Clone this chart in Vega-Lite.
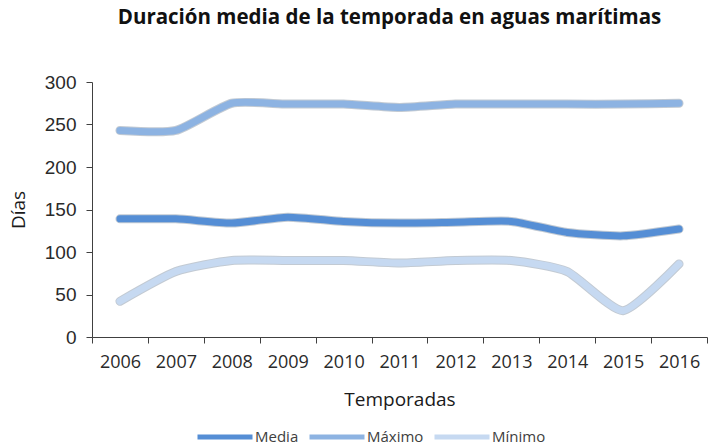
{
  "$schema": "https://vega.github.io/schema/vega-lite/v6.json",
  "autosize": "none",
  "width": 615,
  "height": 255,
  "padding": {"left": 92, "top": 82, "right": 10, "bottom": 111},
  "background": "white",
  "title": {
    "text": "Duración media de la temporada en aguas marítimas",
    "font": "Open Sans",
    "fontSize": 20.5,
    "fontWeight": "bold",
    "color": "#111111",
    "anchor": "middle",
    "frame": "group",
    "offset": 45,
    "dx": -10
  },
  "config": {"view": {"stroke": null}},
  "data": {
    "values": [
      {"year": 2006, "serie": "Media", "dias": 139},
      {"year": 2007, "serie": "Media", "dias": 139},
      {"year": 2008, "serie": "Media", "dias": 134},
      {"year": 2009, "serie": "Media", "dias": 141},
      {"year": 2010, "serie": "Media", "dias": 136},
      {"year": 2011, "serie": "Media", "dias": 134},
      {"year": 2012, "serie": "Media", "dias": 135},
      {"year": 2013, "serie": "Media", "dias": 136},
      {"year": 2014, "serie": "Media", "dias": 123},
      {"year": 2015, "serie": "Media", "dias": 119},
      {"year": 2016, "serie": "Media", "dias": 127},
      {"year": 2006, "serie": "Máximo", "dias": 243},
      {"year": 2007, "serie": "Máximo", "dias": 243},
      {"year": 2008, "serie": "Máximo", "dias": 275},
      {"year": 2009, "serie": "Máximo", "dias": 274},
      {"year": 2010, "serie": "Máximo", "dias": 274},
      {"year": 2011, "serie": "Máximo", "dias": 270},
      {"year": 2012, "serie": "Máximo", "dias": 274},
      {"year": 2013, "serie": "Máximo", "dias": 274},
      {"year": 2014, "serie": "Máximo", "dias": 274},
      {"year": 2015, "serie": "Máximo", "dias": 274},
      {"year": 2016, "serie": "Máximo", "dias": 275},
      {"year": 2006, "serie": "Mínimo", "dias": 42},
      {"year": 2007, "serie": "Mínimo", "dias": 77},
      {"year": 2008, "serie": "Mínimo", "dias": 90},
      {"year": 2009, "serie": "Mínimo", "dias": 90},
      {"year": 2010, "serie": "Mínimo", "dias": 90},
      {"year": 2011, "serie": "Mínimo", "dias": 87},
      {"year": 2012, "serie": "Mínimo", "dias": 90},
      {"year": 2013, "serie": "Mínimo", "dias": 90},
      {"year": 2014, "serie": "Mínimo", "dias": 77},
      {"year": 2015, "serie": "Mínimo", "dias": 31},
      {"year": 2016, "serie": "Mínimo", "dias": 86}
    ]
  },
  "encoding": {
    "x": {
      "field": "year",
      "type": "quantitative",
      "scale": {"domain": [2005.5, 2016.5], "nice": false, "zero": false},
      "axis": {
        "title": "Temporadas",
        "titleFont": "Open Sans",
        "titleFontSize": 19,
        "titleFontWeight": "normal",
        "titleColor": "#1a1a1a",
        "titlePadding": 19,
        "values": [2005.5, 2006.5, 2007.5, 2008.5, 2009.5, 2010.5, 2011.5, 2012.5, 2013.5, 2014.5, 2015.5, 2016.5],
        "labelExpr": "datum.value > 2016 ? '' : format(datum.value + 0.5, 'd')",
        "labelOffset": 28,
        "labelFont": "Open Sans",
        "labelFontSize": 18,
        "labelColor": "#2a2a2a",
        "labelPadding": 10,
        "labelFlush": false,
        "labelOverlap": false,
        "tickSize": 6,
        "tickColor": "#404040",
        "domainColor": "#404040",
        "grid": false
      }
    },
    "y": {
      "field": "dias",
      "type": "quantitative",
      "scale": {"domain": [0, 300], "nice": false},
      "axis": {
        "title": "Días",
        "titleFont": "Open Sans",
        "titleFontSize": 19,
        "titleFontWeight": "normal",
        "titleColor": "#1a1a1a",
        "titlePadding": 16,
        "values": [0, 50, 100, 150, 200, 250, 300],
        "labelFont": "Liberation Sans",
        "labelFontSize": 19,
        "labelColor": "#2a2a2a",
        "labelPadding": 10,
        "tickSize": 6,
        "tickColor": "#404040",
        "domainColor": "#404040",
        "grid": false
      }
    }
  },
  "layer": [
    {
      "mark": {"type": "line", "interpolate": "cardinal", "tension": 0.4, "strokeWidth": 9, "color": "#9aa6b6", "opacity": 0.6, "strokeCap": "round", "strokeJoin": "round"},
      "encoding": {"detail": {"field": "serie"}}
    },
    {
      "mark": {"type": "line", "interpolate": "cardinal", "tension": 0.4, "strokeWidth": 7, "strokeCap": "round", "strokeJoin": "round"},
      "encoding": {
        "color": {
          "field": "serie",
          "type": "nominal",
          "scale": {"domain": ["Media", "Máximo", "Mínimo"], "range": ["#558ed5", "#8db3e2", "#c6d9f1"]},
          "legend": {
            "title": null,
            "orient": "none",
            "direction": "horizontal",
            "legendX": 103,
            "legendY": 325,
            "symbolType": "stroke",
            "symbolSize": 3025,
            "symbolStrokeWidth": 5,
            "symbolOffset": 0,
            "labelFont": "Open Sans",
            "labelFontSize": 15,
            "labelColor": "#404040",
            "labelOffset": 0,
            "columnPadding": 0
          }
        }
      }
    }
  ]
}
